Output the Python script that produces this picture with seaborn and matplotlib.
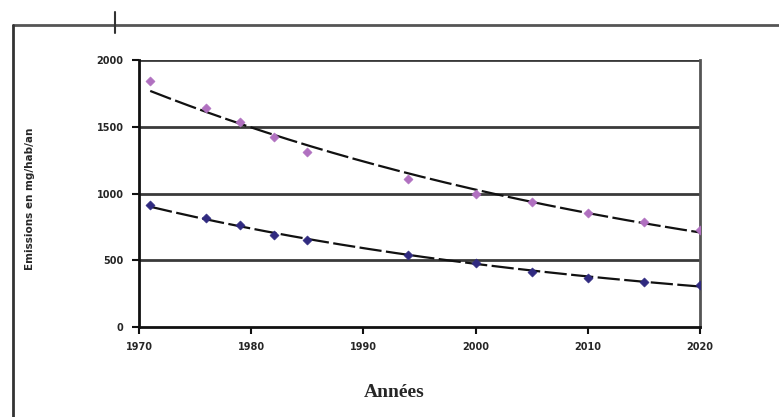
import numpy as np
import pandas as pd
import matplotlib
matplotlib.use("Agg")
import matplotlib.pyplot as plt
from matplotlib.lines import Line2D
import seaborn as sns

years_hi = [1971, 1976, 1979, 1982, 1985, 1994, 2000, 2005, 2010, 2015, 2020]
vals_hi = [1845, 1640, 1535, 1425, 1310, 1110, 1000, 935, 855, 790, 730]
years_lo = [1971, 1976, 1979, 1982, 1985, 1994, 2000, 2005, 2010, 2015, 2020]
vals_lo = [915, 815, 765, 690, 650, 540, 480, 412, 367, 340, 315]
x_ticks = [1970, 1980, 1990, 2000, 2010, 2020]
y_ticks = [0, 500, 1000, 1500, 2000]
x_label = "Années"
y_label = "Emissions en mg/hab/an"

sns.set_theme(style="white")
plt.rcParams['font.family'] = ['DejaVu Sans']

fig = plt.figure(figsize=(7.79, 4.17), dpi=100)
ax = fig.add_axes([139/779, 1-327/417, (700-139)/779, (327-60)/417])

def exp_fit(xs, ys):
    xs = np.asarray(xs, float); ys = np.asarray(ys, float)
    b, a = np.polyfit(xs - 1970, np.log(ys), 1)
    grid = np.linspace(xs.min(), xs.max(), 200)
    return grid, np.exp(a + b * (grid - 1970))

for xs, ys in [(years_hi, vals_hi), (years_lo, vals_lo)]:
    gx, gy = exp_fit(xs, ys)
    sns.lineplot(x=gx, y=gy, ax=ax, color="#111111", lw=1.6,
                 linestyle=(0, (10, 2)), zorder=3)

sns.scatterplot(x=years_hi, y=vals_hi, ax=ax, marker="D", s=22,
                color="#b070c0", edgecolor="#b070c0", zorder=4)
sns.scatterplot(x=years_lo, y=vals_lo, ax=ax, marker="D", s=22,
                color="#302a80", edgecolor="#302a80", zorder=4)

ax.set_xlim(1970, 2020)
ax.set_ylim(0, 2000)
ax.set_xticks(x_ticks)
ax.set_yticks(y_ticks)
ax.set_xticklabels([str(t) for t in x_ticks], fontsize=7, fontweight="bold")
ax.set_yticklabels([str(t) for t in y_ticks], fontsize=7, fontweight="bold")
for v in y_ticks[1:]:
    ax.axhline(v, color="#3a3a3a", lw=2.0, zorder=1)
ax.tick_params(axis="both", direction="out", length=5, width=1.5, color="#111111", pad=6)
ax.tick_params(axis="both", which="both", left=True, bottom=True)
for side in ["left", "bottom"]:
    ax.spines[side].set_color("#111111")
    ax.spines[side].set_linewidth(2.0)
ax.spines["right"].set_color("#555555")
ax.spines["right"].set_linewidth(2.0)
ax.spines["top"].set_visible(False)
ax.set_xlabel(x_label, family="Liberation Serif", fontsize=14, fontweight="bold")
ax.xaxis.set_label_coords(0.455, -0.215)
ax.set_ylabel(y_label, fontsize=7.5, fontweight="bold")
ax.yaxis.set_label_coords(-0.185, 0.48)

# outer frame
fig.add_artist(Line2D([13/779, 1.0], [1-25/417, 1-25/417], color="#555555", lw=2.0))
fig.add_artist(Line2D([13/779, 13/779], [0.0, 1-25/417], color="#333333", lw=2.0))
fig.add_artist(Line2D([115/779, 115/779], [1-12/417, 1-33/417], color="#333333", lw=1.5))

fig.savefig("out.png", dpi=100)
